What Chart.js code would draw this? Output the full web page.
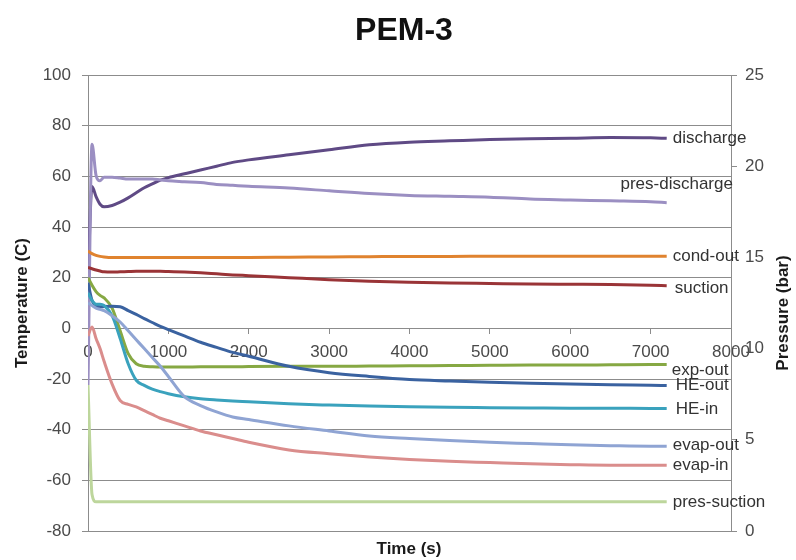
<!DOCTYPE html>
<html>
<head>
<meta charset="utf-8">
<title>PEM-3</title>
<script src="https://cdn.jsdelivr.net/npm/chart.js@4"></script>
<style>
  html, body { margin: 0; padding: 0; background: #fff; }
  #wrap { width: 796px; height: 560px; }
</style>
</head>
<body>
<div id="wrap"><canvas id="pem3" width="796" height="560"></canvas></div>
<script>
// sample times (s)
const times = [0, 50, 100, 150, 200, 300, 400, 500, 600, 700, 800, 900, 1000, 1200, 1400,
  1600, 1800, 2000, 2500, 3000, 3500, 4000, 4500, 5000, 5500, 6000, 6500, 7000, 7200];

// temperatures (C)
const discharge = [20, 56, 52, 49, 48, 48.5, 49.8, 51.5, 53.5, 55.5, 57, 58.5, 59.5, 61, 62.5,
  64, 65.5, 66.5, 68.5, 70.5, 72.5, 73.5, 74, 74.5, 74.8, 75, 75.3, 75.2, 75];
const condOut = [30.5, 29.5, 28.8, 28.4, 28.2, 28, 28, 28, 28, 28, 28, 28, 28, 28, 28,
  28, 28, 28, 28.1, 28.2, 28.3, 28.4, 28.4, 28.5, 28.5, 28.5, 28.5, 28.5, 28.5];
const suction = [24, 23.5, 23, 22.6, 22.3, 22.2, 22.3, 22.4, 22.5, 22.5, 22.5, 22.5, 22.4, 22.2, 21.9,
  21.5, 21.1, 20.8, 20, 19.2, 18.6, 18.2, 17.9, 17.7, 17.5, 17.4, 17.3, 17, 16.8];
const expOut = [20, 17, 14.5, 13, 12, 8, -1, -10, -14, -15, -15.2, -15.3, -15.3, -15.3, -15.2,
  -15.2, -15.2, -15.1, -15, -15, -14.9, -14.8, -14.7, -14.6, -14.5, -14.5, -14.4, -14.3, -14.3];
const heOut = [18, 11, 9, 8.5, 8.6, 8.7, 8.5, 7, 5.5, 3.8, 2.3, 0.8, -0.5, -3, -5.5,
  -7.5, -9.5, -11, -15, -17.5, -19, -20.2, -20.8, -21.3, -21.7, -22, -22.3, -22.5, -22.6];
const heIn = [14, 11, 9.5, 9.5, 9, 5, -4, -14, -20.5, -22.5, -24, -25, -25.8, -27, -27.8,
  -28.3, -28.7, -29, -29.8, -30.3, -30.7, -31, -31.2, -31.3, -31.4, -31.5, -31.5, -31.6, -31.6];
const evapOut = [10, 9, 8, 7.5, 7, 5, 2.5, -1, -4.5, -8, -11.5, -15, -19, -27, -30.5,
  -33, -35, -36, -38.5, -40.5, -42.5, -43.5, -44.3, -45, -45.5, -46, -46.3, -46.5, -46.5];
const evapIn = [-3, 0.5, -4, -8, -13, -22, -28.5, -30, -31, -32.5, -34, -35.5, -36.5, -38.5, -40.5,
  -42, -43.5, -45, -48, -49.5, -50.8, -51.8, -52.5, -53, -53.5, -53.8, -54, -54, -54];

// pressures (bar)
const presDischarge = [8, 21.2, 19.5, 19.2, 19.4, 19.4, 19.35, 19.3, 19.3, 19.3, 19.3, 19.25, 19.2, 19.15, 19.1,
  19, 18.95, 18.9, 18.8, 18.65, 18.5, 18.4, 18.35, 18.3, 18.2, 18.15, 18.1, 18.05, 18];
const presSuction = [8, 2, 1.6, 1.6, 1.6, 1.6, 1.6, 1.6, 1.6, 1.6, 1.6, 1.6, 1.6, 1.6, 1.6,
  1.6, 1.6, 1.6, 1.6, 1.6, 1.6, 1.6, 1.6, 1.6, 1.6, 1.6, 1.6, 1.6, 1.6];

const FONT = "'Liberation Sans', Arial, sans-serif";
const AXIS_GREY = '#8c8c8c';
const TEXT = '#4a4a4a';

function pts(vals) {
  return vals.map((v, i) => ({ x: times[i], y: v }));
}

// label, values, colour, axis, label offset [dx, dy, align]
const series = [
  ['pres-suction', presSuction, '#bdd69c', 'y2', [6, 0, 'left']],
  ['evap-in', evapIn, '#da8d8c', 'y', [6, 0, 'left']],
  ['evap-out', evapOut, '#8fa4d3', 'y', [6, -1, 'left']],
  ['HE-in', heIn, '#3aa2bd', 'y', [9, 1, 'left']],
  ['HE-out', heOut, '#3a62a0', 'y', [9, 0, 'left']],
  ['exp-out', expOut, '#86a843', 'y', [5, 6, 'left']],
  ['suction', suction, '#9a3437', 'y', [8, 3, 'left']],
  ['cond-out', condOut, '#e0832f', 'y', [6, 0, 'left']],
  ['pres-discharge', presDischarge, '#9b8fc2', 'y2', [10, -18, 'center']],
  ['discharge', discharge, '#5f4a85', 'y', [6, 0, 'left']]
];

const datasets = series.map(([label, vals, color, axis, off]) => ({
  label: label,
  data: pts(vals),
  yAxisID: axis,
  borderColor: color,
  borderWidth: 3,
  pointRadius: 0,
  cubicInterpolationMode: 'monotone',
  labelOffset: off
}));

// text next to the last point of each line
const endLabels = {
  id: 'endLabels',
  afterDatasetsDraw(chart) {
    const ctx = chart.ctx;
    ctx.save();
    ctx.font = '17px ' + FONT;
    ctx.fillStyle = '#333';
    ctx.textBaseline = 'middle';
    chart.data.datasets.forEach((ds, i) => {
      const meta = chart.getDatasetMeta(i);
      const last = meta.data[meta.data.length - 1];
      const [dx, dy, align] = ds.labelOffset;
      ctx.textAlign = align;
      ctx.fillText(ds.label, last.x + dx, last.y + dy);
    });
    ctx.restore();
  }
};

// chart title and axis titles
const titles = {
  id: 'titles',
  afterDraw(chart) {
    const ctx = chart.ctx;
    const area = chart.chartArea;
    ctx.save();
    ctx.fillStyle = '#111';
    ctx.textAlign = 'center';
    ctx.textBaseline = 'middle';
    ctx.font = 'bold 32px ' + FONT;
    ctx.fillText('PEM-3', 404, 31);

    ctx.fillStyle = '#1a1a1a';
    ctx.font = 'bold 17px ' + FONT;
    ctx.fillText('Time (s)', 409, 549);

    const midY = (area.top + area.bottom) / 2;
    ctx.save();
    ctx.translate(22, midY);
    ctx.rotate(-Math.PI / 2);
    ctx.fillText('Temperature (C)', 0, 0);
    ctx.restore();

    ctx.save();
    ctx.translate(783, midY + 10);
    ctx.rotate(-Math.PI / 2);
    ctx.fillText('Pressure (bar)', 0, 0);
    ctx.restore();
    ctx.restore();
  }
};

new Chart(document.getElementById('pem3'), {
  type: 'line',
  data: { datasets: datasets },
  options: {
    responsive: false,
    animation: false,
    layout: { padding: { top: 75, bottom: 29, left: 0, right: 0 } },
    plugins: {
      legend: { display: false },
      tooltip: { enabled: false },
      title: { display: false }
    },
    scales: {
      x: {
        type: 'linear',
        min: 0,
        max: 8000,
        position: { y: 0 },
        ticks: {
          stepSize: 1000,
          color: TEXT,
          font: { family: FONT, size: 17 },
          padding: 9,
          maxRotation: 0,
          callback: v => String(v)
        },
        grid: { drawOnChartArea: false, tickLength: 5, color: AXIS_GREY },
        border: { color: AXIS_GREY }
      },
      y: {
        min: -80,
        max: 100,
        ticks: { stepSize: 20, color: TEXT, font: { family: FONT, size: 17 }, padding: 11 },
        grid: { color: AXIS_GREY, tickLength: 6 },
        border: { color: AXIS_GREY },
        afterFit(scale) { scale.width = 88; }
      },
      y2: {
        position: 'right',
        min: 0,
        max: 25,
        ticks: { stepSize: 5, color: TEXT, font: { family: FONT, size: 17 }, padding: 8 },
        grid: { drawOnChartArea: false, tickLength: 6, color: AXIS_GREY },
        border: { color: AXIS_GREY },
        afterFit(scale) { scale.width = 65; }
      }
    }
  },
  plugins: [endLabels, titles]
});
</script>
</body>
</html>
